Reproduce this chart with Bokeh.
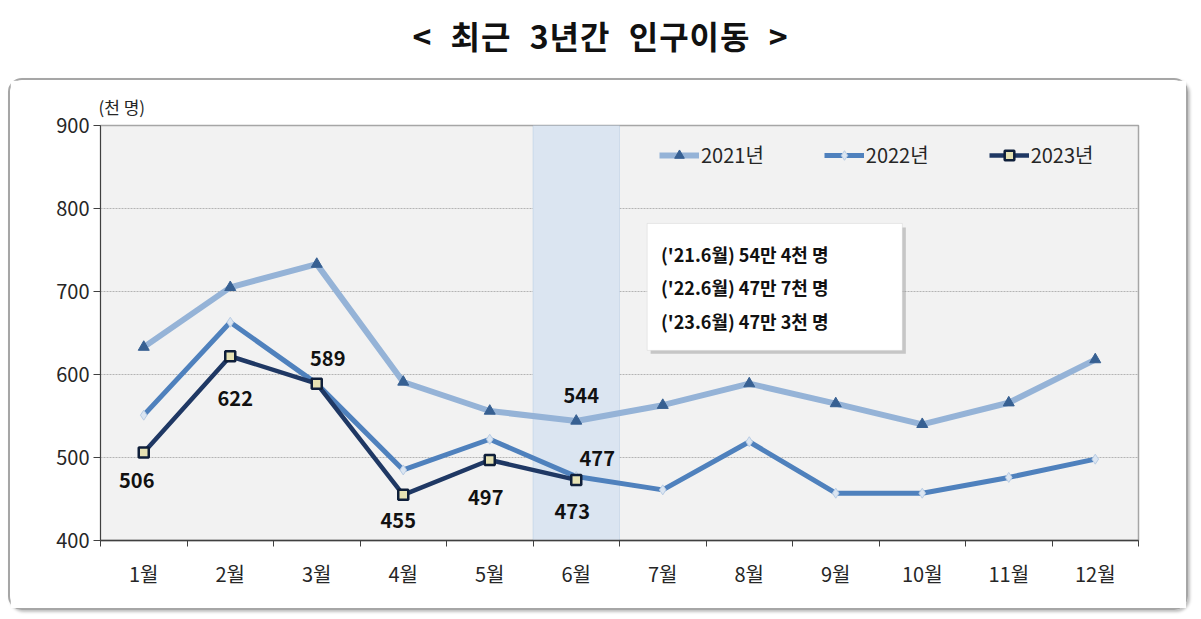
from bokeh.plotting import figure
from bokeh.models import (ColumnDataSource, FixedTicker, Label, BoxAnnotation,
                          Legend, LegendItem, Div)
from bokeh.layouts import column
from bokeh.embed import file_html
from bokeh.resources import INLINE

months = ["1월", "2월", "3월", "4월", "5월", "6월", "7월", "8월", "9월", "10월", "11월", "12월"]
y2021 = [633, 705, 733, 591, 556, 544, 563, 589, 565, 540, 566, 618]
y2022 = [551, 663, 589, 485, 522, 477, 461, 519, 457, 457, 476, 498]
y2023 = [506, 622, 589, 455, 497, 473]
y_ticks = [400, 500, 600, 700, 800, 900]
note_lines = ["('21.6월) 54만 4천 명", "('22.6월) 47만 7천 명", "('23.6월) 47만 3천 명"]

FONT = "Noto Sans CJK KR"
xs = list(range(1, len(months) + 1))

title = Div(text="&lt; 최근 3년간 인구이동 &gt;", width=1201, height=78,
            styles={"font-family": FONT, "font-size": "32px", "font-weight": "bold",
                    "color": "#111111", "text-align": "center", "line-height": "70px",
                    "word-spacing": "10px", "letter-spacing": "1px"})
title.margin = (0, 0, 0, 0)

p = figure(width=1180, height=532, x_range=(0.5, 12.5), y_range=(400, 900),
           output_backend="svg", toolbar_location=None, title="(천 명)",
           min_border_left=90, min_border_right=52, min_border_top=45,
           min_border_bottom=72)
p.margin = (0, 0, 0, 8)
p.styles = {"border": "2px solid #a6a6a6", "border-radius": "14px",
            "box-shadow": "2px 2px 3px rgba(0,0,0,0.25)"}
p.title.text_font = FONT
p.title.text_font_size = "17px"
p.title.text_font_style = "normal"
p.title.text_color = "#262626"
p.title.standoff = 14
p.title.offset = -2
p.background_fill_color = "#f2f2f2"
p.border_fill_color = "white"
p.outline_line_color = "#a6a6a6"
p.outline_line_width = 1.5

# axes
p.xaxis.ticker = FixedTicker(ticks=xs, minor_ticks=[i + 0.5 for i in range(0, 13)])
p.xaxis.major_label_overrides = {i: m for i, m in zip(xs, months)}
p.xaxis.major_tick_line_color = None
p.xaxis.minor_tick_out = 6
p.xaxis.minor_tick_in = 0
p.xaxis.minor_tick_line_color = "#404040"
p.xaxis.axis_line_color = "#404040"
p.xaxis.axis_line_width = 1.5
p.xaxis.major_label_standoff = 12
p.yaxis.ticker = FixedTicker(ticks=y_ticks)
p.yaxis.major_tick_out = 7
p.yaxis.major_tick_in = 0
p.yaxis.minor_tick_line_color = None
p.yaxis.axis_line_color = "#404040"
p.yaxis.major_tick_line_color = "#404040"
p.yaxis.major_label_standoff = 4
for ax in (p.xaxis, p.yaxis):
    ax.major_label_text_font = FONT
    ax.major_label_text_font_size = "20px"
    ax.major_label_text_color = "#262626"
p.xgrid.grid_line_color = None
p.ygrid.grid_line_color = "#b4b4b4"
p.ygrid.grid_line_dash = "2 1"
p.ygrid.grid_line_width = 1

# June highlight band
p.add_layout(BoxAnnotation(left=5.5, right=6.5, fill_color="#dbe5f1", fill_alpha=1,
                           line_color="#95b3d7", line_width=1, level="underlay"))

src21 = ColumnDataSource(dict(x=xs, y=y2021))
src22 = ColumnDataSource(dict(x=xs, y=y2022))
src23 = ColumnDataSource(dict(x=xs[:len(y2023)], y=y2023))

l21 = p.line("x", "y", source=src21, line_color="#95b3d7", line_width=6)
m21 = p.scatter("x", "y", source=src21, marker="triangle", size=11,
                fill_color="#376092", line_color="#376092")
l22 = p.line("x", "y", source=src22, line_color="#4f81bd", line_width=5)
m22 = p.scatter("x", "y", source=src22, marker="diamond", size=10,
                fill_color="#dbe5f1", line_color="#b8cce4")
l23 = p.line("x", "y", source=src23, line_color="#1f3864", line_width=4.5)
m23 = p.scatter("x", "y", source=src23, marker="square", size=10,
                fill_color="#e6e2b4", line_color="#0f1f3a", line_width=2.5)

# data labels
lbl_x = xs[:len(y2023)] + [6, 6]
lbl_v = y2023 + [y2021[5], y2022[5]]
lbl_dx = [-7, 5, 11, -5, -4, -4, 5, 21]
lbl_dy = [28, 42, -25, 26, 38, 32, -25, -18]
lsrc = ColumnDataSource(dict(x=lbl_x, y=lbl_v, t=[str(v) for v in lbl_v],
                             dx=lbl_dx, dy=lbl_dy))
p.text("x", "y", text="t", source=lsrc, x_offset="dx", y_offset="dy",
       text_align="center", text_baseline="middle", text_font={"value": FONT},
       text_font_size="20px", text_font_style="bold", text_color="#111111")

# legend
legend = Legend(items=[LegendItem(label="2021년", renderers=[l21, m21]),
                       LegendItem(label="2022년", renderers=[l22, m22]),
                       LegendItem(label="2023년", renderers=[l23, m23])],
                orientation="horizontal", location=(559, 371))
legend.background_fill_alpha = 0
legend.border_line_color = None
legend.padding = 0
legend.margin = 0
legend.spacing = 60
legend.glyph_width = 40
legend.glyph_height = 24
legend.label_height = 24
legend.label_standoff = 2
legend.label_text_font = FONT
legend.label_text_font_size = "20px"
legend.label_text_color = "#262626"
p.add_layout(legend)

# note box
p.add_layout(BoxAnnotation(left=6.86, right=9.81, top=777, bottom=625,
                           fill_color="#9a9a9a", fill_alpha=0.5, line_color=None))
p.add_layout(BoxAnnotation(left=6.82, right=9.77, top=782, bottom=629,
                           fill_color="white", fill_alpha=1, line_color="#bfbfbf"))
for i, line in enumerate(note_lines):
    p.add_layout(Label(x=6.98, y=287 - i * 33.5, y_units="screen", text=line,
                       text_font=FONT, text_font_size="18px", text_font_style="bold",
                       text_color="#111111", text_baseline="middle"))

open("out.html", "w").write(file_html(column(title, p, spacing=0), INLINE))
